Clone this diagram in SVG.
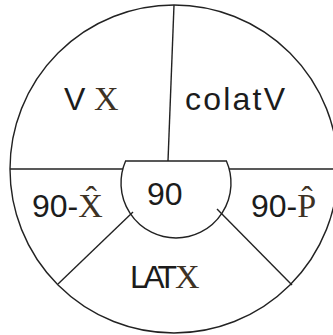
<svg xmlns="http://www.w3.org/2000/svg" width="333" height="335" viewBox="0 0 333 335">
<style>
.ln{fill:none;stroke:#222;stroke-width:1.4}
.t{font-family:"Liberation Sans",Arial,sans-serif;font-size:32px;fill:#1c1c1c}
.x{font-family:"Liberation Serif","Times New Roman",serif;font-size:34px;fill:#3d3225}
</style>
<rect width="333" height="335" fill="#fff"/>
<g id="connectors">
<circle class="ln" cx="174" cy="169" r="164"/>
<line class="ln" x1="174" y1="5" x2="168" y2="161"/>
<line class="ln" x1="10" y1="169" x2="123" y2="169"/>
<line class="ln" x1="229" y1="169" x2="333" y2="169"/>
<line class="ln" x1="133" y1="212" x2="58" y2="284"/>
<line class="ln" x1="217" y1="209" x2="292" y2="285"/>
</g>
<g id="center">
<path class="ln" d="M125.6,161 L226.4,161 A55,55 0 1,1 125.6,161 Z"/>
<text class="t" x="147" y="205">90</text>
</g>
<g id="vx"><text x="64" y="110"><tspan class="t">V</tspan><tspan class="x" x="94">X</tspan></text></g>
<g id="colatv"><text class="t" x="185" y="110" textLength="100">colatV</text></g>
<g id="left"><text x="32" y="217"><tspan class="t">90-</tspan><tspan class="x">X̂</tspan></text></g>
<g id="right"><text x="251" y="217"><tspan class="t">90-</tspan><tspan class="x">P̂</tspan></text></g>
<g id="lat"><text class="t" x="130" y="288" textLength="47">LAT</text><text class="x" x="175" y="288">X</text></g>
</svg>
